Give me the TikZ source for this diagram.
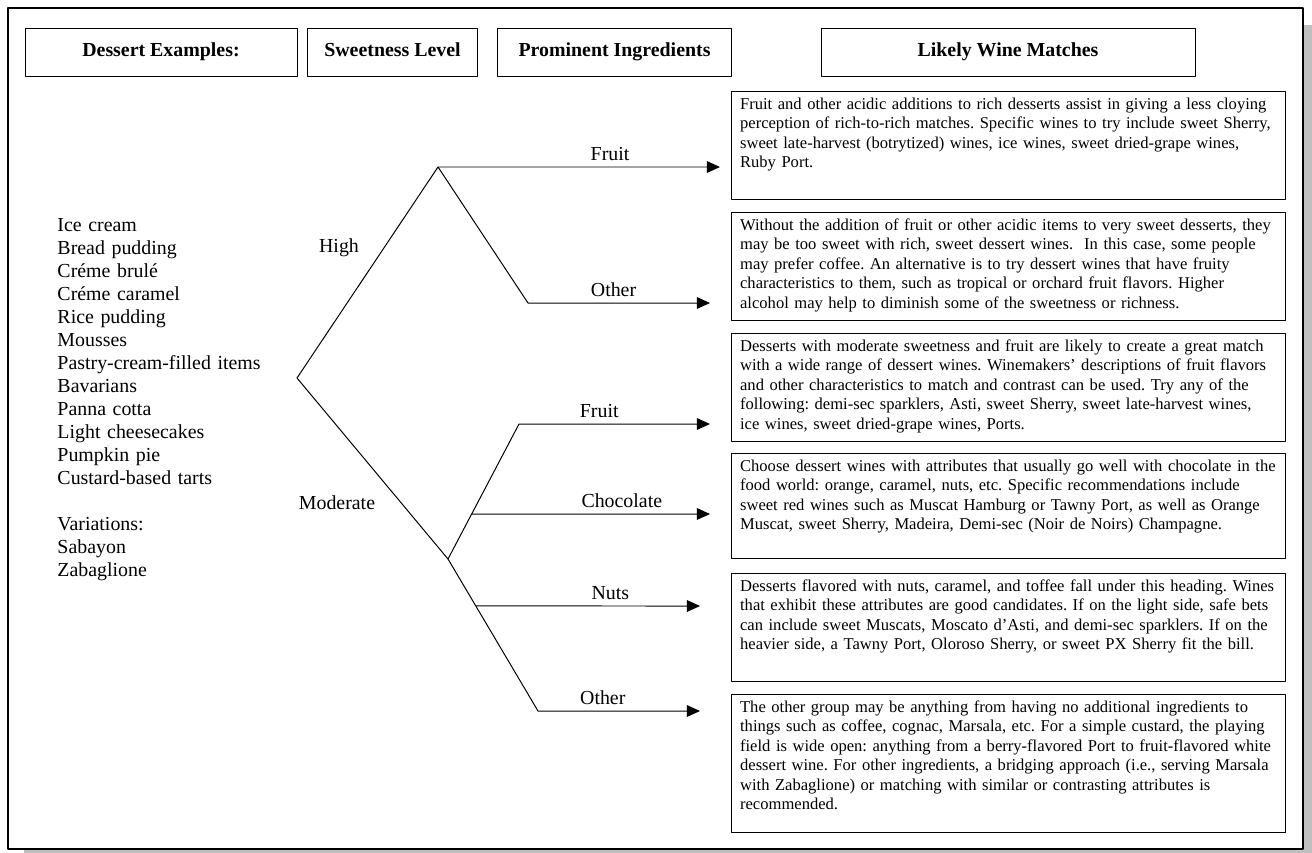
\documentclass[tikz,border=0pt]{standalone}
\usepackage{fontspec}
\setmainfont{Liberation Serif}
\usetikzlibrary{arrows.meta,calc}
\begin{document}
\begin{tikzpicture}[x=0.6037pt, y=-0.6037pt, line width=.6pt, line join=round, >={Triangle[length=7.9pt,width=7pt]},
		font=\fontsize{12}{13.9}\selectfont,
		head/.style={draw, minimum height=28.4pt, text height=8pt, text depth=3.5pt, font=\fontsize{12}{13.9}\selectfont\bfseries},
		wine/.style={draw, anchor=north west, align=left, text width=324pt, inner xsep=5.2pt, inner ysep=0pt, text height=10.9pt, font=\fontsize{10}{11.7}\selectfont\frenchspacing}]
		\useasboundingbox (0,0) rectangle (1312,852);
		\fill[black!25] (24,25) rectangle (1330,870);
		\draw[fill=white, line width=1pt] (8,8) rectangle (1303,849);
		\foreach \x/\w/\t [count=\i] in {161/164.2/Dessert Examples:, 392.5/103.2/Sweetness Level, 614.5/140.7/Prominent Ingredients, 1008/225.8/Likely Wine Matches}
			\node[head, minimum width=\w pt] (h\i) at (\x,52.5) {\t};
		\node[anchor=base west, align=left, text width=140pt, inner sep=0pt] (list) at (57,231) {Ice cream\\Bread pudding\\Créme brulé\\Créme caramel\\Rice pudding\\Mousses\\Pastry-cream-filled items\\Bavarians\\Panna cotta\\Light cheesecakes\\Pumpkin pie\\Custard-based tarts\\[13.9pt]Variations:\\Sabayon\\Zabaglione};
		\path
		(297,378) coordinate (R)
		(438,167) coordinate (H)
		(528,303) coordinate (HO)
		(448,559) coordinate (M)
		(519,424) coordinate (MF)
		(538,711) coordinate (MO)
		($(M)!1/3!(MF)$) coordinate (MC)
		($(M)!.309!(MO)$) coordinate (MN)
		\foreach \n/\x/\y in {1/720/167,2/710/303,3/710/424,4/710/514,5/700/606,6/700/711}{(\x,\y) coordinate (E\n)}
		;
		\draw[->] (R) -- (H) -- (E1) node[above, pos=.61] (f1) {Fruit};
		\draw[->] (H) -- (HO) -- (E2) node[above, pos=.47] (o1) {Other};
		\draw[->] (R) -- (M) -- (MF) -- (E3) node[above, pos=.42] (f2) {Fruit};
		\draw[->] (MC) -- (E4) node[above, pos=.63] (c2) {Chocolate};
		\draw[->] (MN) -- (E5) node[above, pos=.6] (n2) {Nuts};
		\draw[->] (M) -- (MO) -- (E6) node[above, pos=.4] (o2) {Other};
		\node[anchor=base] (high) at (339,252) {High};
		\node[anchor=base] (mod) at (337,509) {Moderate};
		\node[wine, text depth=54.3pt] (w1) at (731,91) {Fruit and other acidic additions to rich desserts assist in giving a less cloying\\perception of rich-to-rich matches. Specific wines to try include sweet Sherry,\\sweet late-harvest (botrytized) wines, ice wines, sweet dried-grape wines,\\Ruby Port.};
		\node[wine, text depth=54.3pt] (w2) at (731,212) {Without the addition of fruit or other acidic items to very sweet desserts, they\\may be too sweet with rich, sweet dessert wines.~ In this case, some people\\may prefer coffee. An alternative is to try dessert wines that have fruity\\characteristics to them, such as tropical or orchard fruit flavors. Higher\\alcohol may help to diminish some of the sweetness or richness.};
		\node[wine, text depth=54.3pt] (w3) at (731,333) {Desserts with moderate sweetness and fruit are likely to create a great match\\with a wide range of dessert wines. Winemakers’ descriptions of fruit flavors\\and other characteristics to match and contrast can be used. Try any of the\\following: demi-sec sparklers, Asti, sweet Sherry, sweet late-harvest wines,\\ice wines, sweet dried-grape wines, Ports.};
		\node[wine, text depth=52.5pt] (w4) at (731,453) {Choose dessert wines with attributes that usually go well with chocolate in the\\food world: orange, caramel, nuts, etc. Specific recommendations include\\sweet red wines such as Muscat Hamburg or Tawny Port, as well as Orange\\Muscat, sweet Sherry, Madeira, Demi-sec (Noir de Noirs) Champagne.};
		\node[wine, text depth=54.3pt] (w5) at (731,573) {Desserts flavored with nuts, caramel, and toffee fall under this heading. Wines\\that exhibit these attributes are good candidates. If on the light side, safe bets\\can include sweet Muscats, Moscato d’Asti, and demi-sec sparklers. If on the\\heavier side, a Tawny Port, Oloroso Sherry, or sweet PX Sherry fit the bill.};
		\node[wine, text depth=72.4pt] (w6) at (731,694) {The other group may be anything from having no additional ingredients to\\things such as coffee, cognac, Marsala, etc. For a simple custard, the playing\\field is wide open: anything from a berry-flavored Port to fruit-flavored white\\dessert wine. For other ingredients, a bridging approach (i.e., serving Marsala\\with Zabaglione) or matching with similar or contrasting attributes is\\recommended.};
\end{tikzpicture}
\end{document}
